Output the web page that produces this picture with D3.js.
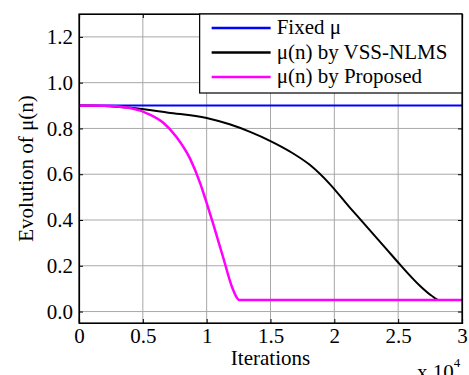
<!DOCTYPE html>
<html>
<head>
<meta charset="utf-8">
<script src="https://cdn.jsdelivr.net/npm/d3@7"></script>
</head>
<body style="margin:0; background:#fff">
<div id="chart"></div>
<script>
// Data (iterations, step size)
const fixedX = [0, 30000];
const fixedY = [0.9, 0.9];

const vssX = [0, 2000, 4000, 7000, 10000, 11800, 13400, 15000, 16500, 18100, 19650, 21200, 22000, 24100, 25100, 26700, 27600, 28200, 30000];
const vssY = [0.9, 0.898, 0.89, 0.869, 0.846, 0.818, 0.785, 0.745, 0.70, 0.64, 0.557, 0.455, 0.405, 0.272, 0.208, 0.113, 0.07, 0.05, 0.05];

const propX = [0, 2000, 4000, 5500, 6600, 7650, 8700, 9480, 9870, 10500, 11300, 12000, 12350, 12550, 30000];
const propY = [0.9, 0.899, 0.889, 0.862, 0.825, 0.762, 0.668, 0.562, 0.497, 0.385, 0.235, 0.105, 0.062, 0.05, 0.05];

const xTicks = [0, 5000, 10000, 15000, 20000, 25000, 30000];
const yTicks = [0, 0.2, 0.4, 0.6, 0.8, 1, 1.2];
const legendLabels = ["Fixed \u03bc", "\u03bc(n) by VSS-NLMS", "\u03bc(n) by Proposed"];
const colors = ["#0000ff", "#000000", "#ff00ff"];

const serifFamily = "'Liberation Serif', 'Times New Roman', serif";
const fs = "21px";

// Dimensions
const W = 469, H = 375;
const margin = { top: 14, right: 7, bottom: 52, left: 79 },
    width = W - margin.left - margin.right,
    height = H - margin.top - margin.bottom;

const svg = d3.select("#chart")
    .append("svg")
    .attr("width", W)
    .attr("height", H);

const g = svg.append("g")
    .attr("transform", `translate(${margin.left},${margin.top})`);

const x = d3.scaleLinear().domain([0, 30000]).range([0, width]);
const y = d3.scaleLinear().domain([-0.05, 1.3]).range([height, 0]);

// grid
g.append("g").selectAll("line")
    .data(xTicks.slice(1, -1))
    .enter().append("line")
    .attr("x1", d => x(d)).attr("x2", d => x(d))
    .attr("y1", 0).attr("y2", height)
    .attr("stroke", "#a8a8a8").attr("stroke-width", 1);
g.append("g").selectAll("line")
    .data(yTicks)
    .enter().append("line")
    .attr("x1", 0).attr("x2", width)
    .attr("y1", d => y(d)).attr("y2", d => y(d))
    .attr("stroke", "#a8a8a8").attr("stroke-width", 1);

// lines
const line = d3.line().x(d => x(d[0])).y(d => y(d[1])).curve(d3.curveMonotoneX);
const series = [
    d3.zip(fixedX, fixedY),
    d3.zip(vssX, vssY),
    d3.zip(propX, propY)
];
series.forEach((s, i) => {
    g.append("path")
        .datum(s)
        .attr("fill", "none")
        .attr("stroke", colors[i])
        .attr("stroke-width", i === 2 ? 2.5 : 2)
        .attr("d", line);
});

// axes (ticks inside, box style)
g.append("g").attr("transform", `translate(0,${height})`)
    .call(d3.axisBottom(x).tickValues(xTicks).tickSize(-4).tickPadding(5)
        .tickFormat(d => d / 10000));
g.append("g")
    .call(d3.axisLeft(y).tickValues(yTicks).tickSize(-4).tickPadding(6));
g.append("g")
    .call(d3.axisTop(x).tickValues(xTicks).tickSize(-4).tickFormat(""));
g.append("g").attr("transform", `translate(${width},0)`)
    .call(d3.axisRight(y).tickValues(yTicks).tickSize(-4).tickFormat(""));

g.selectAll(".domain").attr("stroke", "#000").attr("stroke-width", 1.2);
g.selectAll(".tick line").attr("stroke", "#000");
g.selectAll(".tick text")
    .style("font-family", serifFamily)
    .style("font-size", fs)
    .attr("fill", "#000");

// box outline
g.append("rect")
    .attr("width", width).attr("height", height)
    .attr("fill", "none").attr("stroke", "#000").attr("stroke-width", 1.2);

// legend
const lx = x(9450);
const lg = g.append("g").attr("transform", `translate(${lx},0)`);
lg.append("rect")
    .attr("width", width - lx).attr("height", 79)
    .attr("fill", "#fff").attr("stroke", "#000").attr("stroke-width", 1.2);
legendLabels.forEach((lab, i) => {
    const yy = 14 + i * 24.5;
    lg.append("line")
        .attr("x1", 12).attr("x2", 71)
        .attr("y1", yy).attr("y2", yy)
        .attr("stroke", colors[i]).attr("stroke-width", 2.5);
    lg.append("text")
        .attr("x", 77).attr("y", yy + 6)
        .style("font-family", serifFamily)
        .style("font-size", fs)
        .text(lab);
});

// axis labels
svg.append("text")
    .attr("x", margin.left + width / 2).attr("y", 365)
    .attr("text-anchor", "middle")
    .style("font-family", serifFamily)
    .style("font-size", fs)
    .text("Iterations");

svg.append("text")
    .attr("transform", `translate(33,${margin.top + height / 2}) rotate(-90)`)
    .attr("text-anchor", "middle")
    .style("font-family", serifFamily)
    .style("font-size", fs)
    .text("Evolution of \u03bc(n)");

const ex = svg.append("text")
    .attr("x", 417).attr("y", 379)
    .style("font-family", serifFamily)
    .style("font-size", fs);
ex.append("tspan").text("x 10");
ex.append("tspan").attr("dy", -12).style("font-size", "13px").text("4");
</script>
</body>
</html>
